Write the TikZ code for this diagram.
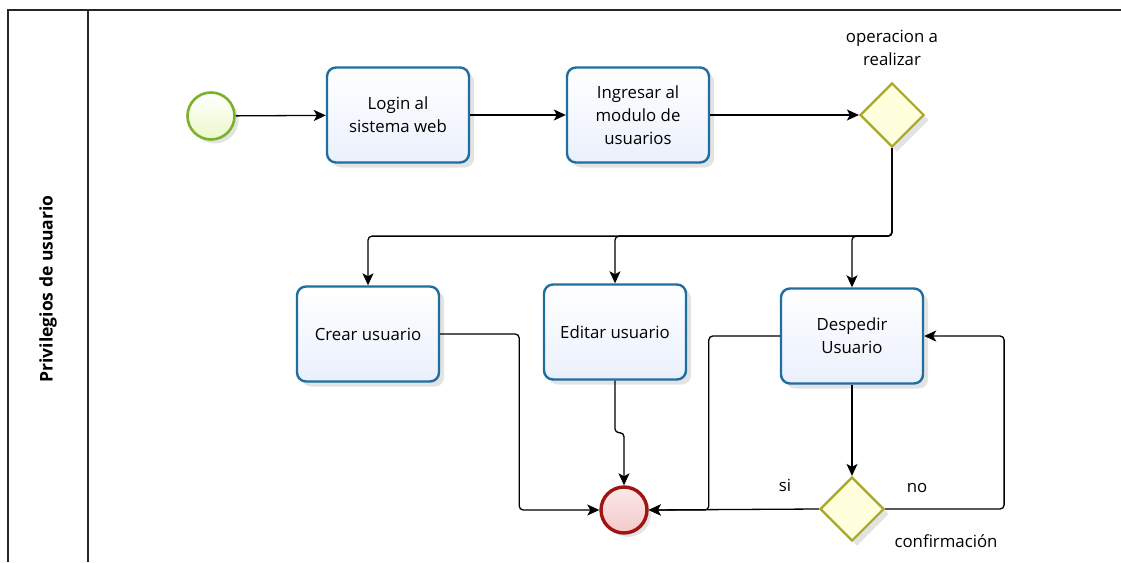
\documentclass[tikz,border=0pt]{standalone}
\usepackage{fontspec}
\setmainfont{Open Sans}
\usetikzlibrary{shapes.geometric,arrows.meta,shadows,calc}
\definecolor{taskblue}{RGB}{30,110,160}
\definecolor{taskfill}{RGB}{234,240,252}
\definecolor{startgreen}{RGB}{122,178,46}
\definecolor{startfill}{RGB}{236,248,200}
\definecolor{endred}{RGB}{160,20,20}
\definecolor{endfill}{RGB}{244,200,200}
\definecolor{gwolive}{RGB}{168,168,40}
\definecolor{gwfill}{RGB}{255,255,222}
\begin{document}
\begin{tikzpicture}[x=1pt,y=-1pt,
  every node/.style={font=\fontsize{16.8}{23}\selectfont},
  taskbox/.style={draw=taskblue,line width=2.4pt,rounded corners=9pt,
    top color=white,bottom color=taskfill,minimum width=142pt,minimum height=95pt,
    align=center,inner sep=2pt,
    drop shadow={opacity=0.22,shadow xshift=5pt,shadow yshift=-5pt}},
  startev/.style={circle,draw=startgreen,line width=2.6pt,minimum size=47pt,inner sep=0pt,
    top color=white,bottom color=startfill,
    drop shadow={opacity=0.22,shadow xshift=4pt,shadow yshift=-4pt}},
  endev/.style={circle,draw=endred,line width=3.4pt,minimum size=46pt,inner sep=0pt,
    top color=white!60!endfill,bottom color=endfill,
    drop shadow={opacity=0.22,shadow xshift=4pt,shadow yshift=-4pt}},
  gateway/.style={diamond,draw=gwolive,line width=2.2pt,minimum width=64pt,minimum height=64pt,
    inner sep=0pt,fill=gwfill,
    drop shadow={opacity=0.22,shadow xshift=5pt,shadow yshift=-5pt}},
  flow/.style={draw=black,line width=1.3pt,rounded corners=4pt,-{Stealth[length=12pt,width=11pt,inset=3pt]}},
  lbl/.style={align=center,inner sep=0pt},
  frame/.style={draw=black!85,line width=1.5pt}
]
\useasboundingbox (0,0) rectangle (1121,562);
% pool frame
\draw[frame] (1121,10) -- (8,10) -- (8,562);
\draw[frame] (88,10) -- (88,562);
\node[rotate=90,font=\bfseries\fontsize{17.5}{20}\selectfont] (lane) at (48,289) {Privilegios de usuario};

% nodes
\node[startev] (start) at (211,116) {};
\node[taskbox] (login) at (398,115) {Login al\\sistema web};
\node[taskbox] (ingresar) at (638,115) {Ingresar al\\modulo de\\usuarios};
\node[gateway] (gw1) at (892,115) {};
\node[lbl] (gw1lbl) at (892,48) {operacion a\\realizar};
\node[taskbox] (crear) at (368,334) {Crear usuario};
\node[taskbox] (editar) at (615,332) {Editar usuario};
\node[taskbox] (desp) at (852,336) {Despedir\\Usuario};
\node[endev] (fin) at (624,510) {};
\node[gateway] (gw2) at (852,509) {};
\node[lbl] (si) at (785,485) {si};
\node[lbl] (no) at (917,488) {no};
\node[lbl] (conf) at (946,541) {confirmación};

% connectors
\draw[flow] (start) -- (login);
\draw[flow] (login) -- (ingresar);
\draw[flow] (ingresar) -- (gw1);
\draw[flow] (gw1.south) -- ++(0,88) -| (crear.north);
\draw[flow] (gw1.south) -- ++(0,88) -| (editar.north);
\draw[flow] (gw1.south) -- ++(0,88) -| (desp.north);
\draw[flow] (crear.east) -- ++(79,0) |- (fin.west);
\draw[flow] (editar.south) -- ++(0,52) -| (fin.north);
\draw[flow] (desp.west) -- ++(-71,0) |- (fin.east);
\draw[flow] (desp.south) -- (gw2.north);
\draw[flow] (gw2.west) -- (fin.east);
\draw[flow] (gw2.east) -- ++(119,0) |- (desp.east);
\end{tikzpicture}
\end{document}
